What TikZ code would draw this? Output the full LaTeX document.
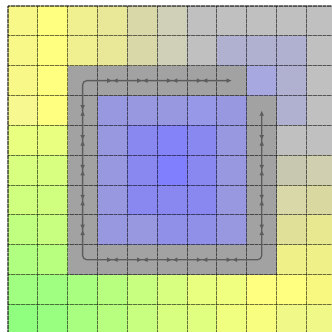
\documentclass[tikz,border=0pt]{standalone}
\usepackage{xcolor}
\usetikzlibrary{arrows.meta}
\begin{document}
\begin{tikzpicture}[
    rejilla/.style={black, opacity=0.25, line width=1pt},
    puntos/.style={black, opacity=0.4, line width=1pt, dash pattern=on 0.6pt off 0.6pt},
    ruta/.style={{Latex[length=5pt,width=4.6pt]}-{Latex[length=5pt,width=4.6pt]}, line width=1.2pt, color=black!64},
    marca/.style={-{Latex[length=5pt,width=4.6pt]}, line width=1.2pt, color=black!64}
]
\useasboundingbox (-0.268,0.201) rectangle (10.854,-10.888);

% Celdas del mapa
\foreach \fila [count=\r from 0] in {%
    {F8F888,FFFF80,F0F090,E8E898,D8D8A8,D0D0B8,C0C0C0,C0C0C0,C0C0C0,C0C0C0,C0C0C0},%
    {F8F888,FFFF80,F0F090,E8E898,D8D8A8,D0D0B8,C0C0C0,B0B0D0,B0B0D0,B0B0D0,C0C0C0},%
    {F8F888,FFFF80,A2A2A2,A2A2A2,A2A2A2,A2A2A2,A2A2A2,A2A2A2,A8A8E0,B0B0D0,C0C0C0},%
    {F8F890,FFFF80,A2A2A2,9898E0,9898E0,9898E0,9898E8,9898E0,A2A2A2,B0B0D0,C0C0C0},%
    {E8FF80,E8FF80,A2A2A2,9898E0,8888F0,8484F8,8888F0,9898E0,A2A2A2,C0C0C0,C0C0C0},%
    {D8FF80,D8FF80,A2A2A2,9898E0,8888F0,8080FF,8888F0,9898E0,A2A2A2,C8C8B0,D0D0B0},%
    {D0FF80,D0FF80,A2A2A2,9898E0,8888F0,8888F0,8888F0,9898E0,A2A2A2,D8D8A8,D8D8A0},%
    {C0FF80,C8FF80,A2A2A2,9898E0,9898E0,9090E8,9090E8,9898E0,A2A2A2,E0E098,E8E890},%
    {B0FF80,B8FF80,A2A2A2,A2A2A2,A2A2A2,A2A2A2,A2A2A2,A2A2A2,A2A2A2,F0F088,F0F088},%
    {A0FF80,A0FF80,A8FF80,B8FF80,C8FF80,D8FF80,E8FF80,F0FF80,FFFF80,FFFF80,F8F880},%
    {90FF80,98FF80,A8FF80,B8FF80,C8FF80,D8FF80,E0FF80,F0FF80,F8FF80,F0F888,F0F888}%
}{
    \foreach \col [count=\k from 0] in \fila {
        \definecolor{celdacol}{HTML}{\col}
        \fill[celdacol] (\k,-\r) rectangle ++(1,-1);
    }
}

% Rejilla
\foreach \i in {0,...,11} {
    \draw[rejilla] (\i,0) -- (\i,-11);
    \draw[rejilla] (0,-\i) -- (11,-\i);
    \draw[puntos] (\i,0) -- (\i,-11);
    \draw[puntos] (0,-\i) -- (11,-\i);
}

% Ruta
\coordinate (finArriba) at (7.5,-2.5);
\coordinate (esqSupIzq) at (2.5,-2.5);
\coordinate (esqInfIzq) at (2.5,-8.5);
\coordinate (esqInfDer) at (8.5,-8.5);
\coordinate (finDerecha) at (8.5,-3.5);
\draw[ruta, rounded corners=4pt] (finArriba) -- (esqSupIzq) -- (esqInfIzq) -- (esqInfDer) -- (finDerecha);

% Marcas en los centros
\foreach \x in {3.5,4.5,5.5,6.5} {
    \draw[marca] (\x-0.3,-2.5) -- (\x,-2.5);
    \draw[marca] (\x+0.3,-2.5) -- (\x,-2.5);
}
\foreach \x in {3.5,4.5,5.5,6.5,7.5} {
    \draw[marca] (\x-0.3,-8.5) -- (\x,-8.5);
    \draw[marca] (\x+0.3,-8.5) -- (\x,-8.5);
}
\foreach \y in {3.5,4.5,5.5,6.5,7.5} {
    \draw[marca] (2.5,-\y+0.3) -- (2.5,-\y);
    \draw[marca] (2.5,-\y-0.3) -- (2.5,-\y);
}
\foreach \y in {4.5,5.5,6.5,7.5} {
    \draw[marca] (8.5,-\y+0.3) -- (8.5,-\y);
    \draw[marca] (8.5,-\y-0.3) -- (8.5,-\y);
}

\end{tikzpicture}
\end{document}
